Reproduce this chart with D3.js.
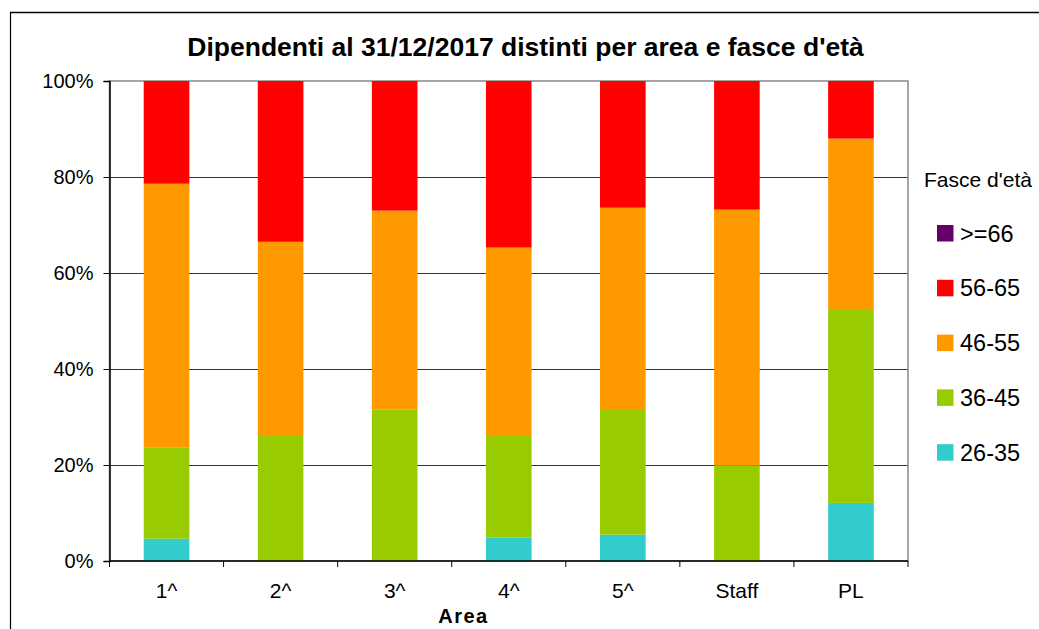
<!DOCTYPE html>
<html>
<head>
<meta charset="utf-8">
<script src="https://cdn.jsdelivr.net/npm/d3@7"></script>
<style>
  html, body { margin: 0; padding: 0; background: #fff; }
  svg { display: block; font-family: "Liberation Sans", Arial, sans-serif; }
</style>
</head>
<body>
<svg id="chart" width="1039" height="629"></svg>
<script>
const title = "Dipendenti al 31/12/2017 distinti per area e fasce d'età";
const categories = ["1^", "2^", "3^", "4^", "5^", "Staff", "PL"];
const seriesNames = ["26-35", "36-45", "46-55", "56-65", ">=66"];
const v26_35 = [4.65, 0, 0, 4.9, 5.5, 0, 12.1];
const v36_45 = [19.05, 26.25, 31.6, 21.35, 26.17, 19.85, 40.4];
const v46_55 = [54.9, 40.25, 41.4, 39.05, 41.93, 53.35, 35.5];
const v56_65 = [21.4, 33.5, 27.0, 34.7, 26.4, 26.8, 12.0];
const v66 = [0, 0, 0, 0, 0, 0, 0];
const colors = ["#33CCCC", "#99CC00", "#FF9900", "#FF0000", "#660066"];
const yTicks = [0, 20, 40, 60, 80, 100];
const legendTitle = "Fasce d'età";
const xTitle = "Area";

const seriesValues = [v26_35, v36_45, v46_55, v56_65, v66];
const rows = categories.map((c, i) => {
  const r = { cat: c };
  seriesNames.forEach((s, j) => r[s] = seriesValues[j][i]);
  return r;
});
const stack = d3.stack().keys(seriesNames).offset(d3.stackOffsetExpand);
const stacked = stack(rows);

const svg = d3.select("#chart");
const L = 109.5, R = 908, T = 81, B = 561;

// outer frame
svg.append("line").attr("x1", 10).attr("x2", 1039).attr("y1", 12.5).attr("y2", 12.5)
  .attr("stroke", "#000").attr("stroke-width", 1.5);
svg.append("line").attr("x1", 10.5).attr("x2", 10.5).attr("y1", 12).attr("y2", 629)
  .attr("stroke", "#000").attr("stroke-width", 1.2);

const x = d3.scaleBand().domain(categories).range([L, R]).paddingInner(0.6).paddingOuter(0.3);
const xb = d3.scaleBand().domain(categories).range([L, R]);
const y = d3.scaleLinear().domain([0, 1]).range([B, T]);

// gridlines
svg.append("g").selectAll("line").data(yTicks.slice(1, -1)).join("line")
  .attr("x1", L).attr("x2", R)
  .attr("y1", d => Math.round(y(d / 100)) + 0.5).attr("y2", d => Math.round(y(d / 100)) + 0.5)
  .attr("stroke", "#333").attr("stroke-width", 1);

// plot border (gray)
svg.append("rect").attr("x", L).attr("y", T).attr("width", R - L).attr("height", B - T)
  .attr("fill", "none").attr("stroke", "#888").attr("stroke-width", 1.5);

// bars
svg.append("g").selectAll("g").data(stacked).join("g")
  .attr("fill", (d, i) => colors[i])
  .selectAll("rect").data(d => d).join("rect")
  .attr("x", d => x(d.data.cat))
  .attr("width", x.bandwidth())
  .attr("y", d => y(d[1]))
  .attr("height", d => Math.max(0, y(d[0]) - y(d[1])));

// y axis
const yAxis = d3.axisLeft(y).tickValues(yTicks.map(d => d / 100)).tickFormat(d3.format(".0%"))
  .tickSize(6).tickPadding(10);
const gy = svg.append("g").attr("transform", `translate(${L},0)`).call(yAxis);
gy.select(".domain").attr("stroke", "#000").attr("stroke-width", 1.5);
gy.selectAll(".tick line").attr("stroke", "#000");
gy.selectAll("text").attr("font-size", 20).attr("fill", "#000")
  .attr("font-family", "Liberation Sans, Arial, sans-serif");

// x axis
const gx = svg.append("g").attr("transform", `translate(0,${B})`);
gx.append("line").attr("x1", L).attr("x2", R).attr("y1", 0).attr("y2", 0)
  .attr("stroke", "#000").attr("stroke-width", 1.5);
const bounds = categories.map(c => xb(c)).concat([R]);
gx.selectAll("line.tk").data(bounds).join("line").attr("class", "tk")
  .attr("x1", d => d).attr("x2", d => d).attr("y1", 0).attr("y2", 6).attr("stroke", "#000");
gx.selectAll("text").data(categories).join("text")
  .attr("x", d => xb(d) + xb.bandwidth() / 2).attr("y", 37)
  .attr("text-anchor", "middle").attr("font-size", 21).attr("fill", "#000")
  .text(d => d);

// x title
svg.append("text").attr("x", 463.5).attr("y", 623).attr("text-anchor", "middle")
  .attr("font-size", 20).attr("font-weight", "bold").attr("letter-spacing", 1.5)
  .text(xTitle);

// title
svg.append("text").attr("x", 525.5).attr("y", 56).attr("text-anchor", "middle")
  .attr("font-size", 26.5).attr("font-weight", "bold").text(title);

// legend
svg.append("text").attr("x", 924).attr("y", 187).attr("font-size", 21).text(legendTitle);
const legOrder = seriesNames.map((s, i) => ({ s, c: colors[i] })).reverse();
const lg = svg.append("g").selectAll("g").data(legOrder).join("g")
  .attr("transform", (d, i) => `translate(937,${225 + i * 54.8})`);
lg.append("rect").attr("width", 16.5).attr("height", 16.5).attr("fill", d => d.c);
lg.append("text").attr("x", 23).attr("y", 16.5).attr("font-size", 23.5).text(d => d.s);
</script>
</body>
</html>
